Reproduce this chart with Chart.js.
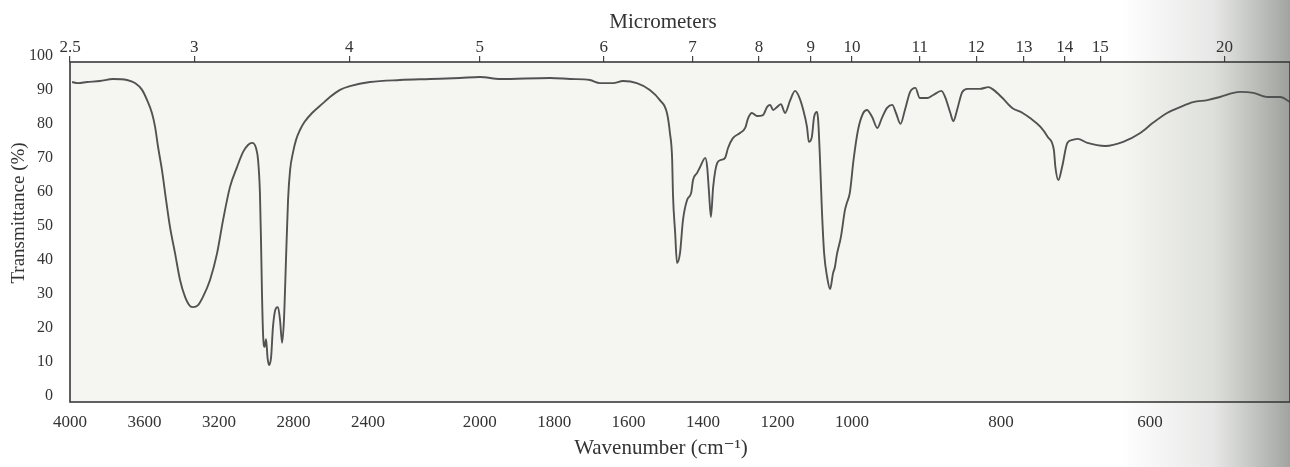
<!DOCTYPE html>
<html><head><meta charset="utf-8">
<script src="https://cdn.jsdelivr.net/npm/chart.js@4.4.0/dist/chart.umd.min.js"></script>
<style>html,body{margin:0;padding:0;background:#fff}#wrap{width:1290px;height:467px;position:relative}</style>
</head><body><div id="wrap"><canvas id="c"></canvas></div>
<script>
// IR spectrum
const wavenumber = [
  3989,3957,3909,3839,3769,3694,3651,3613,3586,3560,
  3543,3527,3506,3484,3463,3436,3409,3382,3355,3339,
  3312,3286,3248,3210,3178,3141,3103,3071,3044,3022,
  3001,2990,2980,2974,2969,2963,2955,2947,2939,2931,
  2920,2910,2894,2883,2872,2861,2851,2840,2829,2818,
  2802,2786,2765,2740,2700,2641,2604,2550,2496,2389,
  2228,
  2133,2053,1999,1945,1811,1757,1704,1677,1642,1615,
  1578,1543,1516,1497,1489,1483,1481,1475,1470,1462,
  1454,1443,1432,1427,1416,1408,1394,1389,1384,1379,
  1373,1362,1352,1341,1333,1320,1301,1287,1279,1269,
  1255,1239,1228,1220,1212,1201,1191,1180,1166,1153,
  1142,1131,1121,1116,1108,1102,1094,1091,1086,1081,
  1075,1067,1059,1051,1046,1041,1030,1019,1014,1006,
  998,992,985,980,973,966,960,953,946,941,
  935,929,922,915,909,899,891,880,875,868,
  864,859,852,845,828,817,810,798,785,771,
  761,747,737,729,727,723,718,711,704,697,
  684,660,636,613,596,577,559,542,523,506,
  488,479,461,442,425,412
];
const transmittance = [
  94.1,93.8,94.1,94.4,95.0,94.7,93.8,91.8,88.8,85.0,
  80.9,75.0,68.2,59.4,51.5,43.8,35.9,30.9,28.2,27.9,
  28.5,30.9,35.9,43.8,53.5,63.2,69.1,73.5,75.6,76.2,
  74.7,71.2,61.5,46.8,32.1,19.7,16.2,18.5,13.0,10.9,
  13.2,22.1,27.6,27.9,24.1,17.4,24.1,41.8,59.4,68.2,
  73.5,77.1,80.0,82.4,85.0,87.9,89.7,91.8,92.9,94.1,
  94.7,
  95.0,95.3,95.6,95.0,95.3,95.0,94.7,93.8,93.8,94.4,
  93.8,91.8,88.8,85.0,79.1,71.2,61.5,49.7,40.9,43.8,
  53.5,59.4,61.5,65.3,67.4,69.1,71.8,69.1,61.5,54.4,
  63.2,70.3,71.2,71.8,74.7,77.6,79.1,80.6,83.5,85.0,
  84.1,84.4,86.8,87.4,85.9,86.8,87.6,85.0,88.8,91.5,
  89.7,85.9,80.9,76.5,77.9,83.8,85.3,82.9,71.2,56.5,
  43.8,36.8,33.2,37.9,39.7,43.2,48.5,56.5,58.5,61.5,
  71.2,80.0,85.0,85.9,83.8,80.6,83.5,86.5,87.4,85.0,
  81.8,85.9,91.2,92.4,89.4,89.4,90.3,91.5,89.7,85.0,
  82.6,85.9,91.2,92.1,92.1,92.6,91.8,89.4,86.5,85.0,
  83.5,80.9,77.9,74.1,69.1,65.3,69.1,76.2,77.1,77.4,
  76.2,75.3,76.5,79.1,82.1,85.0,86.8,88.2,88.8,89.7,
  90.9,91.2,90.9,89.7,89.7,88.2
];
const wavenumberTicks = [4000,3600,3200,2800,2400,2000,1800,1600,1400,1200,1000,800,600];
const micrometerTicks = [2.5,3,4,5,6,7,8,9,10,11,12,13,14,15,20];
const wavenumberEnd = 412;

// abscissa of the chart paper: 4000-2200 cm-1 at one unit, 2200-1000 at two, below 1000 at four
function axisPos(wn){
  if (wn >= 2200) return 4000 - wn;
  if (wn >= 1000) return 1800 + 2 * (2200 - wn);
  return 4200 + 4 * (1000 - wn);
}
const X_MIN = axisPos(4000), X_MAX = axisPos(wavenumberEnd);
const points = wavenumber.map((w, i) => ({ x: axisPos(w), y: transmittance[i] }));

const serif = "'Liberation Serif','DejaVu Serif',serif";
const ink = '#333333';

const decor = {
  id: 'decor',
  beforeDraw(chart) {
    const { ctx, chartArea: a, width, height } = chart;
    ctx.save();
    ctx.fillStyle = '#ffffff'; ctx.fillRect(0, 0, width, height);
    ctx.fillStyle = '#f5f6f2'; ctx.fillRect(a.left, a.top, a.right - a.left, a.bottom - a.top);
    const g = ctx.createLinearGradient(1120, 0, width, 0);
    g.addColorStop(0, 'rgba(90,95,88,0)');
    g.addColorStop(0.55, 'rgba(90,95,88,0.15)');
    g.addColorStop(1, 'rgba(75,80,74,0.52)');
    ctx.fillStyle = g; ctx.fillRect(1120, 0, width - 1120, height);
    ctx.restore();
  },
  afterDraw(chart) {
    const { ctx, chartArea: a } = chart;
    ctx.save();
    ctx.strokeStyle = '#3a3a3a'; ctx.lineWidth = 1.6;
    ctx.strokeRect(a.left, a.top, a.right - a.left, a.bottom - a.top);
    ctx.fillStyle = ink;
    ctx.textAlign = 'center'; ctx.textBaseline = 'middle';
    ctx.font = '21px ' + serif;
    ctx.fillText('Micrometers', 663, 22);
    ctx.fillText('Wavenumber (cm\u207B\u00B9)', 661, 448);
    ctx.translate(19, 213); ctx.rotate(-Math.PI / 2);
    ctx.font = '19px ' + serif;
    ctx.fillText('Transmittance (%)', 0, 0);
    ctx.restore();
  }
};

new Chart(document.getElementById('c'), {
  type: 'line',
  data: { datasets: [{
    data: points, xAxisID: 'x', yAxisID: 'y',
    borderColor: '#525252', borderWidth: 1.9, pointRadius: 0, fill: false,
    cubicInterpolationMode: 'monotone'
  }]},
  options: {
    responsive: true, maintainAspectRatio: false, animation: false, devicePixelRatio: 1,
    layout: { padding: 0 },
    plugins: { legend: { display: false }, tooltip: { enabled: false } },
    scales: {
      x: {
        type: 'linear', position: 'bottom', min: X_MIN, max: X_MAX,
        afterFit(s) { s.height = 65; },
        afterBuildTicks(s) { s.ticks = wavenumberTicks.map(w => ({ value: axisPos(w) })); },
        ticks: { autoSkip: false, maxRotation: 0, padding: 10, color: ink,
                 font: { family: serif, size: 17 }, callback: (v, i) => String(wavenumberTicks[i]) },
        grid: { display: false, drawTicks: false }, border: { display: false }
      },
      xTop: {
        type: 'linear', position: 'top', min: X_MIN, max: X_MAX,
        afterFit(s) { s.height = 62; },
        afterBuildTicks(s) { s.ticks = micrometerTicks.map(m => ({ value: axisPos(10000 / m) })); },
        ticks: { autoSkip: false, maxRotation: 0, padding: -2, color: ink,
                 font: { family: serif, size: 17 }, callback: (v, i) => String(micrometerTicks[i]) },
        grid: { drawOnChartArea: false, drawTicks: true, tickLength: 6, color: '#444', lineWidth: 1.2 },
        border: { display: false }
      },
      y: {
        min: 0, max: 100,
        afterFit(s) { s.width = 70; },
        ticks: { stepSize: 10, padding: 17, labelOffset: -6, color: ink, font: { family: serif, size: 16 } },
        grid: { display: false, drawTicks: false }, border: { display: false }
      }
    }
  },
  plugins: [decor]
});
</script>
</body></html>
